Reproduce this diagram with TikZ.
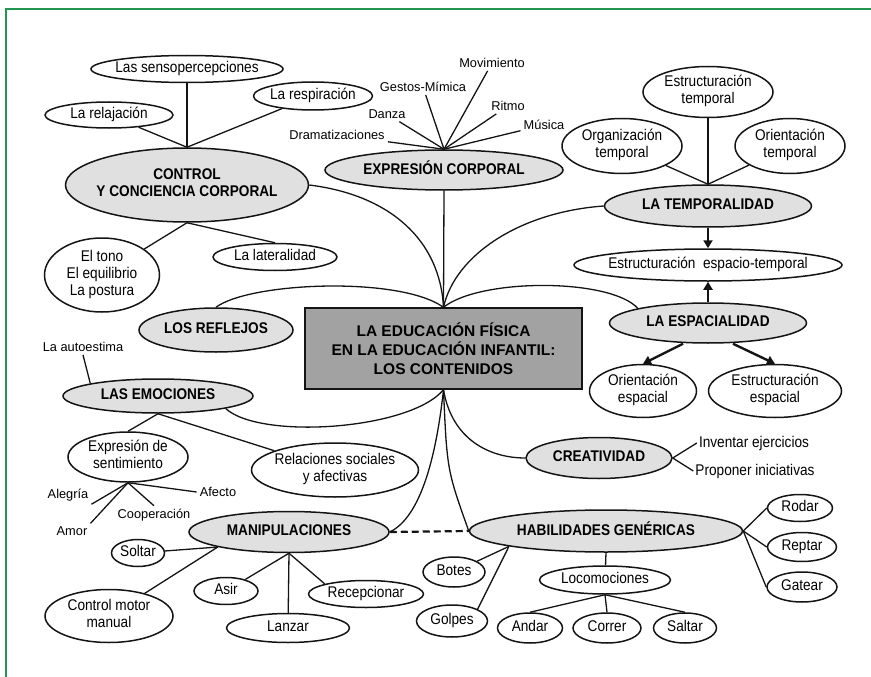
\documentclass[tikz,border=0pt]{standalone}
\usepackage{fontspec}
\setmainfont{Liberation Sans}
\newfontfamily\narrowsf[FakeStretch=0.88]{Liberation Sans}
\usetikzlibrary{shapes.geometric,arrows.meta}
\definecolor{cus-gray}{RGB}{224, 224, 224}
\definecolor{cus-box}{RGB}{162, 162, 162}
\definecolor{cus-line}{RGB}{20, 20, 20}
\definecolor{cus-green}{RGB}{34, 150, 80}
\newcommand{\elltext}[1]{\makebox[0pt]{\begin{tabular}{@{}c@{}}#1\end{tabular}}}

\begin{document}
\begin{tikzpicture}[x=1pt, y=-1pt,
	ell/.style={draw=cus-line, ellipse, line width=1.5pt, inner sep=0pt},
	topic/.style={ell, fill=cus-gray, font=\narrowsf\bfseries\fontsize{15.5}{17}\selectfont},
	sub/.style={ell, fill=white, font=\narrowsf\fontsize{15.5}{17}\selectfont},
	lbl/.style={font=\fontsize{12.8}{14}\selectfont, inner sep=3pt},
	txt/.style={font=\narrowsf\fontsize{15.5}{17}\selectfont, inner sep=2pt},
	link/.style={draw=cus-line, line width=1.3pt},
	arr/.style={draw=cus-line, line width=2.4pt, -{Triangle[length=8pt,width=9pt]}}]
\useasboundingbox (0 ,0) rectangle (871 ,677);
\draw [cus-green, line width=1.5pt] (6 ,677) -- (6 ,9) -- (871 ,9);

\node [draw=cus-line, fill=cus-box, line width=1.4pt, minimum width=277pt, minimum height=81pt, align=center,
	font=\bfseries\fontsize{15.5}{19}\selectfont] (main) at (443.5 ,348.5)
	{LA EDUCACIÓN FÍSICA\\EN LA EDUCACIÓN INFANTIL:\\LOS CONTENIDOS};

\node [topic, minimum width=243pt, minimum height=74pt] (ctrl) at (187 ,185) {\elltext{CONTROL\\Y CONCIENCIA CORPORAL}};
\node [sub, minimum width=192pt, minimum height=27pt] (senso) at (187 ,69) {\elltext{Las sensopercepciones}};
\node [sub, minimum width=128pt, minimum height=26pt] (relaj) at (109 ,115) {\elltext{La relajación}};
\node [sub, minimum width=119pt, minimum height=28pt] (resp) at (313 ,96) {\elltext{La respiración}};
\node [sub, minimum width=115pt, minimum height=74pt] (tono) at (102 ,275) {\elltext{El tono\\El equilibrio\\La postura}};
\node [sub, minimum width=124pt, minimum height=27pt] (lat) at (275 ,257) {\elltext{La lateralidad}};

\node [topic, minimum width=238pt, minimum height=40pt] (expr) at (444 ,170) {\elltext{EXPRESIÓN CORPORAL}};
\node [lbl] (movi) at (492 ,63) {Movimiento};
\node [lbl] (gest) at (423 ,87) {Gestos-Mímica};
\node [lbl] (ritmo) at (508 ,106) {Ritmo};
\node [lbl] (musica) at (544 ,125) {Música};
\node [lbl] (danza) at (387 ,114) {Danza};
\node [lbl] (drama) at (337 ,135) {Dramatizaciones};

\node [topic, minimum width=207pt, minimum height=42pt] (temp) at (708 ,206) {\elltext{LA TEMPORALIDAD}};
\node [sub, minimum width=120pt, minimum height=55pt] (org) at (622 ,146) {\elltext{Organización\\temporal}};
\node [sub, minimum width=130pt, minimum height=51pt] (estt) at (708 ,92) {\elltext{Estructuración\\temporal}};
\node [sub, minimum width=110pt, minimum height=55pt] (orit) at (790 ,146) {\elltext{Orientación\\temporal}};
\node [sub, minimum width=268pt, minimum height=32pt] (espt) at (708 ,265) {\elltext{Estructuración\ \ espacio-temporal}};
\node [topic, minimum width=197pt, minimum height=40pt] (espa) at (708 ,323) {\elltext{LA ESPACIALIDAD}};
\node [sub, minimum width=107pt, minimum height=53pt] (oesp) at (643 ,391) {\elltext{Orientación\\espacial}};
\node [sub, minimum width=133pt, minimum height=53pt] (eesp) at (775 ,391) {\elltext{Estructuración\\espacial}};

\node [topic, minimum width=154pt, minimum height=44pt] (refl) at (216 ,330) {\elltext{LOS REFLEJOS}};

\node [topic, minimum width=190pt, minimum height=34pt] (emo) at (158 ,396) {\elltext{LAS EMOCIONES}};
\node [lbl] (auto) at (83 ,347) {La autoestima};
\node [sub, minimum width=120pt, minimum height=50pt] (sent) at (128 ,457) {\elltext{Expresión de\\sentimiento}};
\node [sub, minimum width=167pt, minimum height=54pt] (rel) at (335 ,470) {\elltext{Relaciones sociales\\y afectivas}};
\node [lbl] (aleg) at (68 ,495) {Alegría};
\node [lbl] (amor) at (72 ,531) {Amor};
\node [lbl] (coop) at (154 ,515) {Cooperación};
\node [lbl] (afec) at (218 ,492) {Afecto};

\node [topic, minimum width=200pt, minimum height=41pt] (manip) at (289 ,532) {\elltext{MANIPULACIONES}};
\node [sub, minimum width=53pt, minimum height=27pt] (soltar) at (138 ,553) {\elltext{Soltar}};
\node [sub, minimum width=128pt, minimum height=53pt] (cmm) at (109 ,616) {\elltext{Control motor\\manual}};
\node [sub, minimum width=64pt, minimum height=27pt] (asir) at (226 ,591) {\elltext{Asir}};
\node [sub, minimum width=123pt, minimum height=29pt] (lanzar) at (288 ,628) {\elltext{Lanzar}};
\node [sub, minimum width=115pt, minimum height=27pt] (recep) at (366 ,594) {\elltext{Recepcionar}};

\node [topic, minimum width=146pt, minimum height=41pt] (crea) at (599 ,458) {\elltext{CREATIVIDAD}};
\node [txt] (inv) at (754 ,443) {Inventar ejercicios};
\node [txt] (prop) at (755 ,471) {Proponer iniciativas};

\node [topic, minimum width=273pt, minimum height=42pt] (hab) at (606 ,531) {\elltext{HABILIDADES GENÉRICAS}};
\node [sub, minimum width=65pt, minimum height=27pt] (rodar) at (800 ,508) {\elltext{Rodar}};
\node [sub, minimum width=69pt, minimum height=29pt] (reptar) at (802 ,547) {\elltext{Reptar}};
\node [sub, minimum width=70pt, minimum height=30pt] (gatear) at (802 ,587) {\elltext{Gatear}};
\node [sub, minimum width=62pt, minimum height=30pt] (botes) at (454 ,572) {\elltext{Botes}};
\node [sub, minimum width=71pt, minimum height=32pt] (golpes) at (452 ,621) {\elltext{Golpes}};
\node [sub, minimum width=131pt, minimum height=28pt] (loco) at (605 ,580) {\elltext{Locomociones}};
\node [sub, minimum width=65pt, minimum height=30pt] (andar) at (530 ,628) {\elltext{Andar}};
\node [sub, minimum width=68pt, minimum height=30pt] (correr) at (607 ,628) {\elltext{Correr}};
\node [sub, minimum width=63pt, minimum height=30pt] (saltar) at (685 ,628) {\elltext{Saltar}};

\draw [link] (ctrl.east) .. controls (390 ,195) and (440 ,240) .. (main.north);
\draw [link] (expr.south) -- (main.north);
\draw [link] (temp.west) .. controls (520 ,212) and (455 ,255) .. (main.north);
\draw [link] (refl.north) .. controls (250 ,282) and (400 ,276) .. (main.north);
\draw [link] (espa.north west) .. controls (610 ,278) and (480 ,278) .. (main.north);
\draw [link] (emo.south east) .. controls (260 ,440) and (410 ,430) .. (main.south);
\draw [link] (manip.east) .. controls (425 ,515) and (438 ,440) .. (main.south);
\draw [link] (main.south) .. controls (447 ,470) .. (hab.west);
\draw [link] (main.south) .. controls (452 ,440) and (490 ,458) .. (crea.west);
\draw [link, line width=2.2pt, dash pattern=on 7pt off 4pt] (manip.east) -- (hab.west);

\draw [link] (ctrl.north) -- (senso);
\draw [link] (ctrl.north) -- (relaj);
\draw [link] (ctrl.north) -- (resp);
\draw [link] (ctrl.south) -- (tono);
\draw [link] (ctrl.south) -- (lat.north);

\foreach \n in {movi,gest,ritmo,musica,danza,drama}{
	\draw [link] (expr.north) -- (\n);
}

\draw [link] (temp.north) -- (org);
\draw [link] (temp.north) -- (estt);
\draw [link] (temp.north) -- (orit);
\draw [arr] (temp.south) -- (espt.north);
\draw [arr] (espa.north) -- (espt.south);
\draw [arr] ([xshift=-25pt]espa.south) -- (oesp.north);
\draw [arr] ([xshift=25pt]espa.south) -- (eesp.north);

\draw [link] (auto.south) -- (emo.north west);
\draw [link] (emo.south) -- (sent.north);
\draw [link] (emo.south) -- (rel);
\draw [link] (sent.south) -- (aleg.south east);
\draw [link] (sent.south) -- (amor.north east);
\draw [link] (sent.south) -- (coop.north);
\draw [link] (sent.south) -- (afec.west);

\draw [link] (manip.south west) -- (soltar);
\draw [link] (manip.south west) -- (cmm);
\draw [link] (manip.south) -- (asir);
\draw [link] (manip.south) -- (lanzar);
\draw [link] (manip.south) -- (recep.north west);

\draw [link] (crea.east) -- (inv.west);
\draw [link] (crea.east) -- (prop.west);

\draw [link] (hab.east) -- (rodar.west);
\draw [link] (hab.east) -- (reptar.west);
\draw [link] (hab.east) -- (gatear.west);
\draw [link] (hab.south west) -- (botes);
\draw [link] (hab.south west) -- (golpes.north east);
\draw [link] (hab.south) -- (loco);
\foreach \n in {andar,correr,saltar}{
	\draw [link] (loco.south) -- (\n.north);
}
\end{tikzpicture}
\end{document}
